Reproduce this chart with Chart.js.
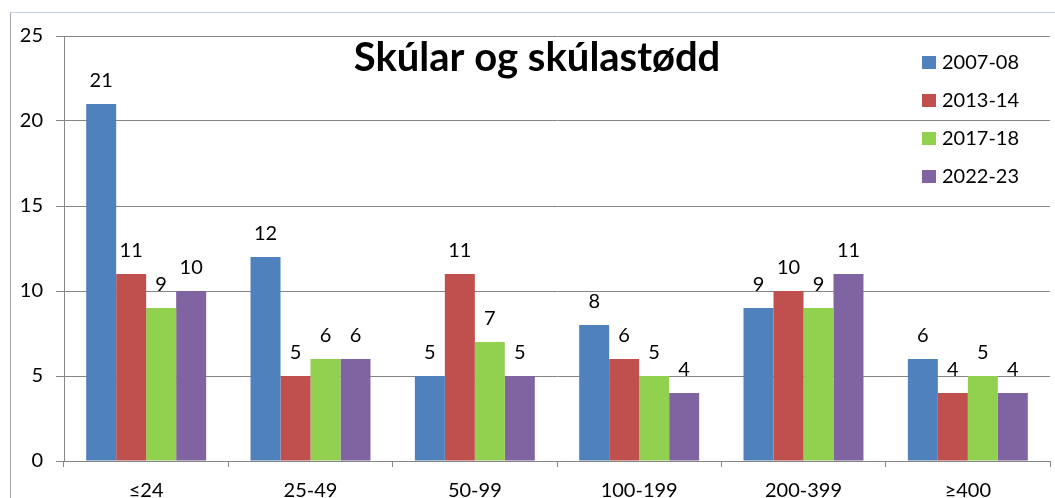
<!DOCTYPE html>
<html>
<head>
<meta charset="utf-8">
<script src="https://cdn.jsdelivr.net/npm/chart.js@4"></script>
<style>
	html, body { margin: 0; padding: 0; background: #fff; }
	.wrap { position: relative; width: 1055px; height: 498px; overflow: hidden; }
	.frame { position: absolute; left: 10px; top: 12px; width: 1100px; height: 600px; border-left: 1px solid #a6a6a6; border-top: 1px solid #c0d3e8; }
	canvas { position: absolute; left: 0; top: 0; }
</style>
</head>
<body>
<div class="wrap">
	<div class="frame"></div>
	<canvas id="chart" width="1055" height="498"></canvas>
</div>
<script>
// Data
const categories = ['≤24', '25-49', '50-99', '100-199', '200-399', '≥400'];
const seriesNames = ['2007-08', '2013-14', '2017-18', '2022-23'];
const values0708 = [21, 12, 5, 8, 9, 6];
const values1314 = [11, 5, 11, 6, 10, 4];
const values1718 = [9, 6, 7, 5, 9, 5];
const values2223 = [10, 6, 5, 4, 11, 4];
const yTicks = [0, 5, 10, 15, 20, 25];

const colors = ['#4F81BD', '#C0504D', '#92D050', '#8064A2'];
const font = "Lato, 'Liberation Sans', sans-serif";

// Labels over bars, title and legend inside the plot
const extras = {
	id: 'extras',
	afterDatasetsDraw(chart) {
		const c = chart.ctx;
		c.save();
		c.fillStyle = '#000';
		c.font = '20px ' + font;
		c.textAlign = 'center';
		c.textBaseline = 'alphabetic';
		chart.data.datasets.forEach(function (ds, i) {
			chart.getDatasetMeta(i).data.forEach(function (bar, j) {
				c.fillText(ds.data[j], bar.x, bar.y - 17);
			});
		});

		// title
		c.font = 'bold 40px ' + font;
		c.textBaseline = 'middle';
		c.fillText('Skúlar og skúlastødd', 537, 58);

		// legend
		c.font = '20px ' + font;
		c.textAlign = 'left';
		chart.data.datasets.forEach(function (ds, i) {
			const y = 62 + i * 38;
			c.fillStyle = ds.backgroundColor;
			c.fillRect(922, y - 6, 14, 13);
			c.fillStyle = '#000';
			c.fillText(ds.label, 942, y + 1);
		});
		c.restore();
	},
};

const seriesValues = [values0708, values1314, values1718, values2223];

new Chart(document.getElementById('chart'), {
	type: 'bar',
	data: {
		labels: categories,
		datasets: seriesNames.map(function (name, i) {
			return {
				label: name,
				data: seriesValues[i],
				backgroundColor: colors[i],
				borderWidth: 0,
				categoryPercentage: 0.73,
				barPercentage: 1,
			};
		}),
	},
	options: {
		responsive: false,
		animation: false,
		layout: {
			padding: { left: 0, top: 36, right: 5, bottom: 0 },
		},
		plugins: {
			legend: { display: false },
			tooltip: { enabled: false },
		},
		scales: {
			x: {
				grid: {
					offset: true,
					drawOnChartArea: false,
					drawTicks: true,
					tickLength: 6,
					color: '#868686',
				},
				border: { color: '#868686' },
				ticks: {
					color: '#000',
					font: { family: font, size: 20 },
					padding: 12,
					maxRotation: 0,
				},
				afterFit: function (scale) {
					scale.height = 37;
				},
			},
			y: {
				min: 0,
				max: 25,
				afterBuildTicks: function (scale) {
					scale.ticks = yTicks.map(function (v) { return { value: v }; });
				},
				grid: {
					color: '#868686',
					tickLength: 8,
				},
				border: { color: '#868686' },
				ticks: {
					color: '#000',
					font: { family: font, size: 20 },
					padding: 13,
				},
				afterFit: function (scale) {
					scale.width = 64;
				},
			},
		},
	},
	plugins: [extras],
});
</script>
</body>
</html>
